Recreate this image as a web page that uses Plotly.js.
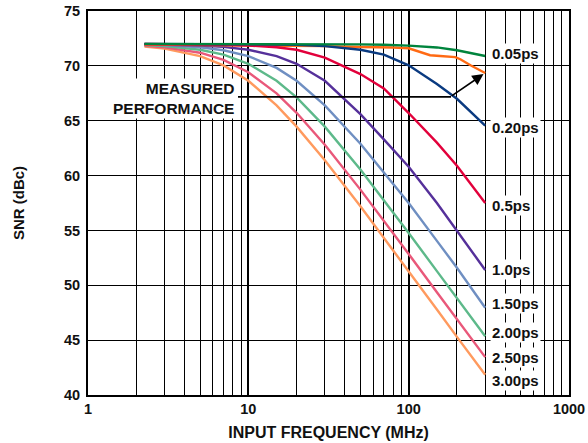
<!DOCTYPE html>
<html>
<head>
<meta charset="utf-8">
<script src="https://cdn.plot.ly/plotly-3.0.1.min.js"></script>
<style>
  html, body { margin: 0; padding: 0; background: #fff; }
  #chart { width: 588px; height: 443px; }
</style>
</head>
<body>
<div id="chart"></div>
<script>
// Input frequency (MHz)
const freq = [2.25, 3, 5, 7, 10, 15, 20, 30, 50, 70, 100, 150, 200, 300];

// SNR (dBc) per clock jitter
const snr005 = [72.0, 72.0, 72.0, 72.0, 72.0, 72.0, 71.99, 71.98, 71.96, 71.92, 71.84, 71.68, 71.42, 70.9];
const snr020 = [72.0, 72.0, 71.99, 71.99, 71.98, 71.95, 71.91, 71.8, 71.47, 71.02, 70.05, 68.35, 67.0, 64.55];
const snr05  = [71.99, 71.99, 71.97, 71.93, 71.86, 71.69, 71.47, 70.75, 69.25, 67.95, 65.7, 63.0, 60.9, 57.5];
const snr10  = [71.97, 71.95, 71.86, 71.73, 71.47, 70.89, 70.19, 68.64, 65.6, 63.3, 60.8, 57.5, 55.0, 51.4];
const snr15  = [71.94, 71.89, 71.69, 71.42, 70.89, 69.81, 68.64, 66.4, 62.9, 60.25, 57.5, 54.05, 51.6, 47.95];
const snr20  = [71.89, 71.8, 71.47, 71.02, 70.19, 68.64, 67.12, 64.46, 60.55, 57.78, 54.77, 51.29, 48.85, 45.35];
const snr25  = [71.83, 71.69, 71.2, 70.55, 69.42, 67.49, 65.72, 62.81, 58.72, 55.9, 52.86, 49.36, 46.88, 43.45];
const snr30  = [71.75, 71.57, 70.89, 70.04, 68.64, 66.4, 64.46, 61.39, 57.2, 54.35, 51.29, 47.79, 45.3, 41.85];

// Measured performance
const measFreq = [2.25, 10, 30, 50, 66, 80, 100, 118, 136, 157, 195, 210, 243, 300];
const measSnr  = [71.95, 71.9, 71.8, 71.72, 71.7, 71.68, 71.6, 71.24, 70.97, 70.9, 70.8, 70.6, 70.05, 69.35];

const jitterLabels = ['0.05ps', '0.20ps', '0.5ps', '1.0ps', '1.50ps', '2.00ps', '2.50ps', '3.00ps'];
const xTickVals = [1, 10, 100, 1000];
const xTickText = ['1', '10', '100', '1000'];
const xMinorVals = [2,3,4,5,6,7,8,9,20,30,40,50,60,70,80,90,200,300,400,500,600,700,800,900];

const series = [snr005, snr020, snr05, snr10, snr15, snr20, snr25, snr30];
const colors = ['#00843D', '#0A3A80', '#E2003B', '#55309A', '#6F8FC2', '#5DB98A', '#E9587A', '#FF9A5E'];
const labelShift = [2, -2, -2, 0, 4, 4, 0, -6];

const FONT = 'Liberation Sans, Arial, Helvetica, sans-serif';
const TXT = '#111';

function mk(i) {
  return {
    x: freq, y: series[i], type: 'scatter', mode: 'lines',
    line: { color: colors[i], width: 2.4 }, hoverinfo: 'skip', showlegend: false
  };
}

const measTrace = {
  x: measFreq, y: measSnr, type: 'scatter', mode: 'lines',
  line: { color: '#FF6A13', width: 2.4 }, hoverinfo: 'skip', showlegend: false
};

// draw order: widest jitter first
const traces = [mk(7), mk(6), mk(5), mk(4), mk(3), measTrace, mk(2), mk(1), mk(0)];

const annotations = jitterLabels.map((t, i) => ({
  x: Math.log10(freq[freq.length - 1]), y: series[i][series[i].length - 1],
  xref: 'x', yref: 'y', text: t, showarrow: false,
  xanchor: 'left', yanchor: 'middle', xshift: 5, yshift: labelShift[i],
  bgcolor: 'white', borderpad: 1,
  font: { family: FONT, size: 15, color: TXT, weight: 'bold' }
}));

annotations.push({
  x: (236 - 88) / 481, xref: 'paper', y: 67.0, yref: 'y',
  text: 'MEASURED<br>PERFORMANCE', showarrow: false, align: 'right',
  xanchor: 'right', yanchor: 'middle', bgcolor: 'white', borderpad: 1,
  font: { family: FONT, size: 15.5, color: TXT, weight: 'bold' }
});

annotations.push({
  x: Math.log10(measFreq[measFreq.length - 1]), y: measSnr[measSnr.length - 1],
  xref: 'x', yref: 'y', text: '', showarrow: true,
  ax: -35, ay: 24, axref: 'pixel', ayref: 'pixel',
  arrowhead: 2, arrowsize: 1.4, arrowwidth: 1.6, arrowcolor: '#000', standoff: 2
});

const layout = {
  width: 588, height: 443,
  margin: { l: 88, r: 19, t: 11, b: 48 },
  paper_bgcolor: 'white', plot_bgcolor: 'white',
  font: { family: FONT, size: 14.5, color: TXT, weight: 'bold' },
  showlegend: false,
  xaxis: {
    type: 'log', range: [0, 3],
    tickvals: xTickVals, ticktext: xTickText,
    showgrid: true, gridcolor: '#000', gridwidth: 2,
    minor: { tickvals: xMinorVals, showgrid: true, gridcolor: '#000', gridwidth: 1, ticks: '' },
    ticks: '', showline: true, linecolor: '#000', linewidth: 2, mirror: true,
    zeroline: false, automargin: false,
    tickfont: { family: FONT, size: 14.5, color: TXT, weight: 'bold' },
    title: { text: 'INPUT FREQUENCY (MHz)', standoff: 10,
             font: { family: FONT, size: 16, color: TXT, weight: 'bold' } }
  },
  yaxis: {
    range: [40, 75], tick0: 40, dtick: 5,
    showgrid: true, gridcolor: '#000', gridwidth: 1,
    ticks: '', showline: true, linecolor: '#000', linewidth: 2, mirror: true,
    zeroline: false, automargin: false, ticklabelstandoff: 3,
    tickfont: { family: FONT, size: 14.5, color: TXT, weight: 'bold' },
    title: { text: 'SNR (dBc)', standoff: 36,
             font: { family: FONT, size: 15, color: TXT, weight: 'bold' } }
  },
  shapes: [{
    type: 'line', xref: 'paper', yref: 'y',
    x0: (238 - 88) / 481, x1: (451 - 88) / 481, y0: 67.17, y1: 67.17,
    line: { color: '#000', width: 1.6 }
  }],
  annotations: annotations
};

Plotly.newPlot('chart', traces, layout, { displayModeBar: false, staticPlot: true });
</script>
</body>
</html>
